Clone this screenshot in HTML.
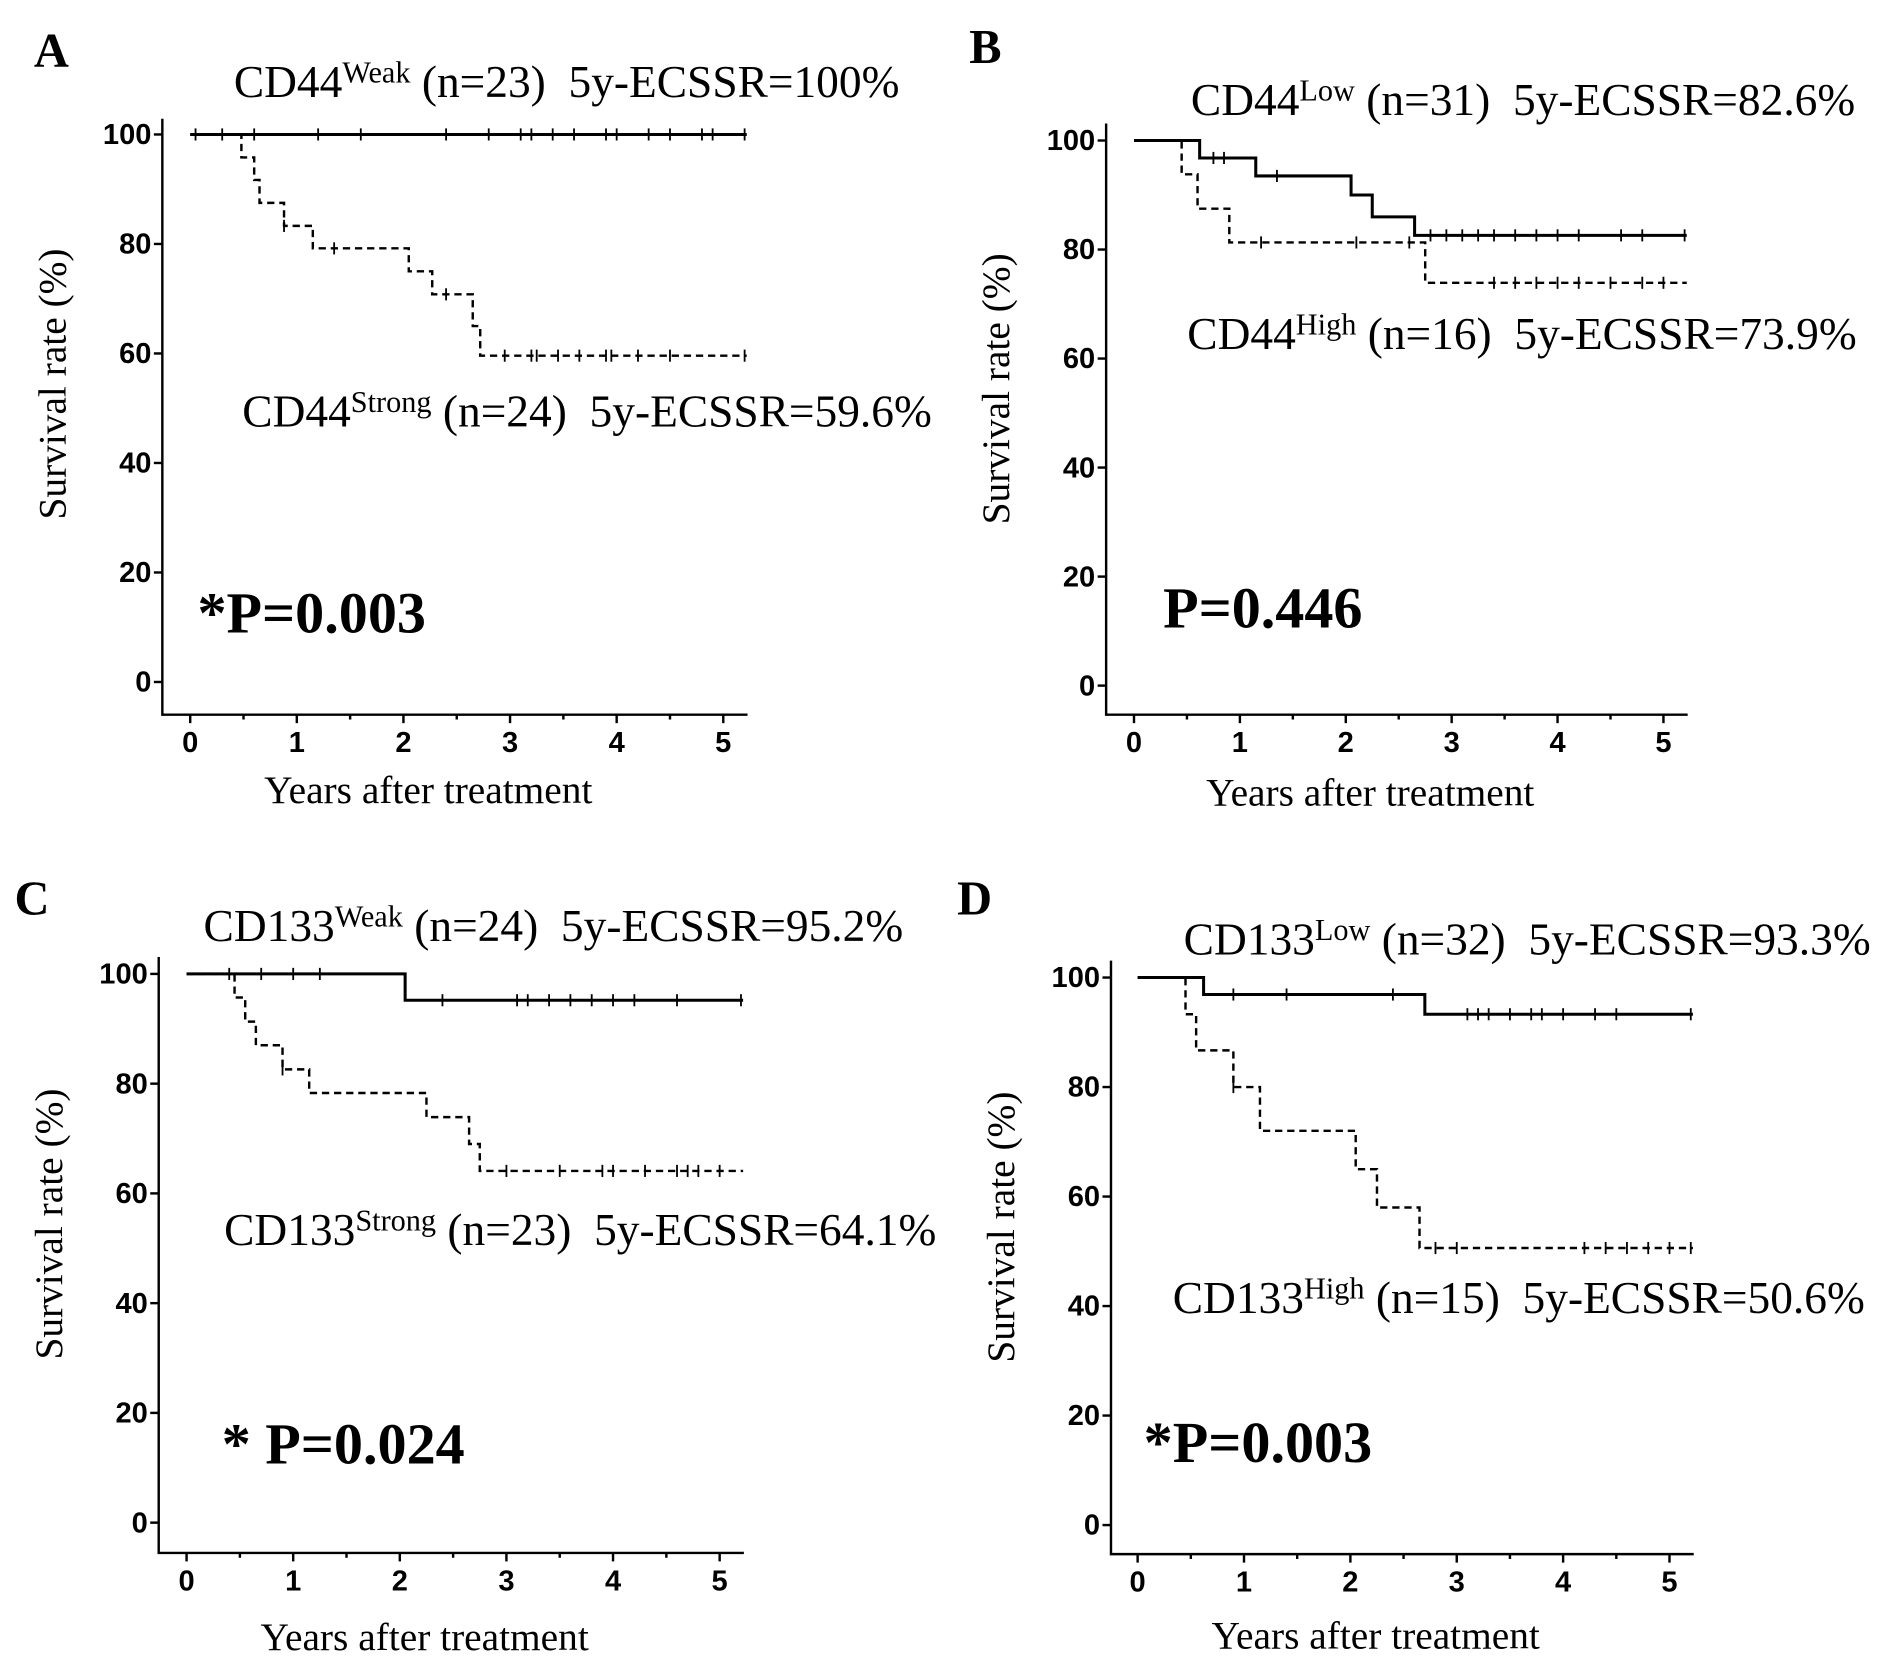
<!DOCTYPE html>
<html><head><meta charset="utf-8"><style>
html,body{margin:0;padding:0;background:#fff}
svg{display:block}
.t{font-family:"Liberation Sans",sans-serif;font-weight:bold;font-size:24px}
.s{font-family:"Liberation Serif",serif}
</style></head><body>
<svg id="c" width="1890" height="1668" viewBox="0 0 1560 1377" preserveAspectRatio="none" xmlns="http://www.w3.org/2000/svg"></svg>
<script>
// Panel A
const aSolidT=[0,5.22], aSolidS=[100,100];
const aSolidC=[0.05,0.3,0.6,1.2,1.6,2.4,2.8,3.1,3.2,3.4,3.6,3.9,4.0,4.3,4.5,4.8,4.9,5.2];
const aDashT=[0,0.48,0.6,0.65,0.88,1.15,2.05,2.27,2.65,2.72,5.22], aDashS=[100,95.8,91.7,87.5,83.3,79.2,75,70.8,65,59.6,59.6];
const aDashC=[0.88,1.35,2.4,2.95,3.2,3.25,3.45,3.65,3.9,3.95,4.2,4.5,5.2];
// Panel B
const bSolidT=[0,0.62,1.15,2.05,2.25,2.65,5.22], bSolidS=[100,96.8,93.5,90,86,82.6,82.6];
const bSolidC=[0.75,0.85,1.35,2.8,2.95,3.1,3.25,3.4,3.6,3.8,4.0,4.2,4.6,4.8,5.2];
const bDashT=[0,0.45,0.6,0.9,2.75,5.22], bDashS=[100,93.8,87.5,81.3,73.9,73.9];
const bDashC=[1.2,2.1,2.6,3.4,3.6,3.8,4.0,4.2,4.5,4.8,5.0];
// Panel C
const cSolidT=[0,2.05,5.22], cSolidS=[100,95.2,95.2];
const cSolidC=[0.4,0.7,1.0,1.25,2.4,3.1,3.2,3.4,3.6,3.8,4.0,4.2,4.6,5.2];
const cDashT=[0,0.45,0.55,0.65,0.9,1.15,2.25,2.65,2.75,5.22], cDashS=[100,95.7,91.3,87,82.6,78.3,73.9,69,64.1,64.1];
const cDashC=[0.9,3.0,3.5,3.9,4.0,4.3,4.6,4.7,4.8,5.0];
// Panel D
const dSolidT=[0,0.62,2.7,5.22], dSolidS=[100,96.9,93.3,93.3];
const dSolidC=[0.9,1.4,2.4,3.1,3.2,3.3,3.5,3.7,3.8,4.0,4.3,4.5,5.2];
const dDashT=[0,0.45,0.55,0.9,1.15,2.05,2.25,2.65,5.22], dDashS=[100,93.3,86.7,80,72,65,58,50.6,50.6];
const dDashC=[0.9,2.8,3.0,4.2,4.4,4.6,4.8,5.0,5.2];
const xTicks=[0,1,2,3,4,5], yTicks=[0,20,40,60,80,100];

const svg=document.getElementById('c');
const NS='http://www.w3.org/2000/svg';
function mk(tag,at,parent){const e=document.createElementNS(NS,tag);for(const k in at)e.setAttribute(k,at[k]);(parent||svg).appendChild(e);return e;}
const SP='\u00a0\u00a0';
const panels=[
 {id:'a',L:'A',lx:28,ly:55,ax:134,top:98,y100:111,y0:563,bx:590,x0:157,x5:597,xend:617,
  sT:aSolidT,sS:aSolidS,sC:aSolidC,dT:aDashT,dS:aDashS,dC:aDashC,
  l1:['CD44','Weak',' (n=23)'+SP+'5y-ECSSR=100%',193,80],l2:['CD44','Strong',' (n=24)'+SP+'5y-ECSSR=59.6%',200,352],p:['*P=0.003',163,522],xt:663},
 {id:'b',L:'B',lx:800,ly:52,ax:913,top:102,y100:116,y0:566,bx:590,x0:936,x5:1373,xend:1393,
  sT:bSolidT,sS:bSolidS,sC:bSolidC,dT:bDashT,dS:bDashS,dC:bDashC,
  l1:['CD44','Low',' (n=31)'+SP+'5y-ECSSR=82.6%',983,95],l2:['CD44','High',' (n=16)'+SP+'5y-ECSSR=73.9%',980,288],p:['P=0.446',960,518],xt:665},
 {id:'c',L:'C',lx:12,ly:755,ax:131,top:790,y100:804,y0:1257,bx:1282,x0:154,x5:594,xend:614,
  sT:cSolidT,sS:cSolidS,sC:cSolidC,dT:cDashT,dS:cDashS,dC:cDashC,
  l1:['CD133','Weak',' (n=24)'+SP+'5y-ECSSR=95.2%',168,777],l2:['CD133','Strong',' (n=23)'+SP+'5y-ECSSR=64.1%',185,1028],p:['* P=0.024',183,1208],xt:1362},
 {id:'d',L:'D',lx:790,ly:755,ax:917,top:793,y100:807,y0:1259,bx:1283,x0:939,x5:1378,xend:1398,
  sT:dSolidT,sS:dSolidS,sC:dSolidC,dT:dDashT,dS:dDashS,dC:dDashC,
  l1:['CD133','Low',' (n=32)'+SP+'5y-ECSSR=93.3%',977,788],l2:['CD133','High',' (n=15)'+SP+'5y-ECSSR=50.6%',968,1084],p:['*P=0.003',944,1207],xt:1361}
];

panels.forEach(P=>{
 const g=mk('g',{});
 
 
 const X=t=>P.x0+(P.x5-P.x0)*t/5, Y=s=>P.y0+(P.y100-P.y0)*s/100;
 const lt=mk('text',{x:P.lx,y:P.ly,'class':'s','font-size':40,'font-weight':'bold'},g); lt.textContent=P.L;
  
 const ya=mk('path',{d:`M${P.ax},${P.top}V${P.bx}H${P.xend}`,stroke:'#000','stroke-width':2,fill:'none'},g);
  
 yTicks.forEach(v=>{
  mk('line',{x1:P.ax-7,x2:P.ax,y1:Y(v),y2:Y(v),stroke:'#000','stroke-width':2},g);
  const t=mk('text',{x:P.ax-9,y:Y(v)+8,'text-anchor':'end','class':'t'},g); t.textContent=v;
   
 });
 for(let k=0;k<=10;k++){const v=k/2;mk('line',{x1:X(v),x2:X(v),y1:P.bx,y2:P.bx+(k%2?4:7),stroke:'#000','stroke-width':2},g);}
 xTicks.forEach(v=>{
  const t=mk('text',{x:X(v),y:P.bx+31,'text-anchor':'middle','class':'t'},g); t.textContent=v;
   
 });
 const yt=mk('text',{x:0,y:0,'class':'s','font-size':32.5,'text-anchor':'middle',transform:`translate(${P.ax-80},${(P.y0+P.y100)/2-20}) rotate(-90)`},g);
 yt.textContent='Survival rate (%)';  
 const xt=mk('text',{x:(P.ax+P.xend)/2-22,y:P.xt,'class':'s','font-size':32.5,'text-anchor':'middle'},g);
 xt.textContent='Years after treatment';  
 function curve(T,S,C,dash,name){
  let d=`M${X(T[0])},${Y(S[0])}`;
  for(let i=1;i<T.length;i++){d+=`H${X(T[i])}V${Y(S[i])}`;}
  const p=mk('path',{d:d,stroke:'#000','stroke-width':dash?2:2.5,fill:'none','stroke-dasharray':dash?'6,4':'none'},g);
   
  C.forEach(c=>{let s=S[0];for(let i=0;i<T.length;i++)if(T[i]<=c)s=S[i];
   const m=mk('line',{x1:X(c),x2:X(c),y1:Y(s)-5,y2:Y(s)+5,stroke:'#000','stroke-width':1.5},g);
    });
 }
 curve(P.sT,P.sS,P.sC,false,'curve-low');
 curve(P.dT,P.dS,P.dC,true,'curve-high');
 [P.l1,P.l2].forEach((l,i)=>{
  const t=mk('text',{x:l[3],y:l[4],'class':'s','font-size':37.5},g);
   
  const a=mk('tspan',{},t);a.textContent=l[0];
  const b=mk('tspan',{dy:-12,'font-size':25},t);b.textContent=l[1];
  const c=mk('tspan',{dy:12},t);c.textContent=l[2];
 });
 const pt=mk('text',{x:P.p[1],y:P.p[2],'class':'s','font-size':48,'font-weight':'bold'},g);
 pt.textContent=P.p[0];  
});
</script>
</body></html>
